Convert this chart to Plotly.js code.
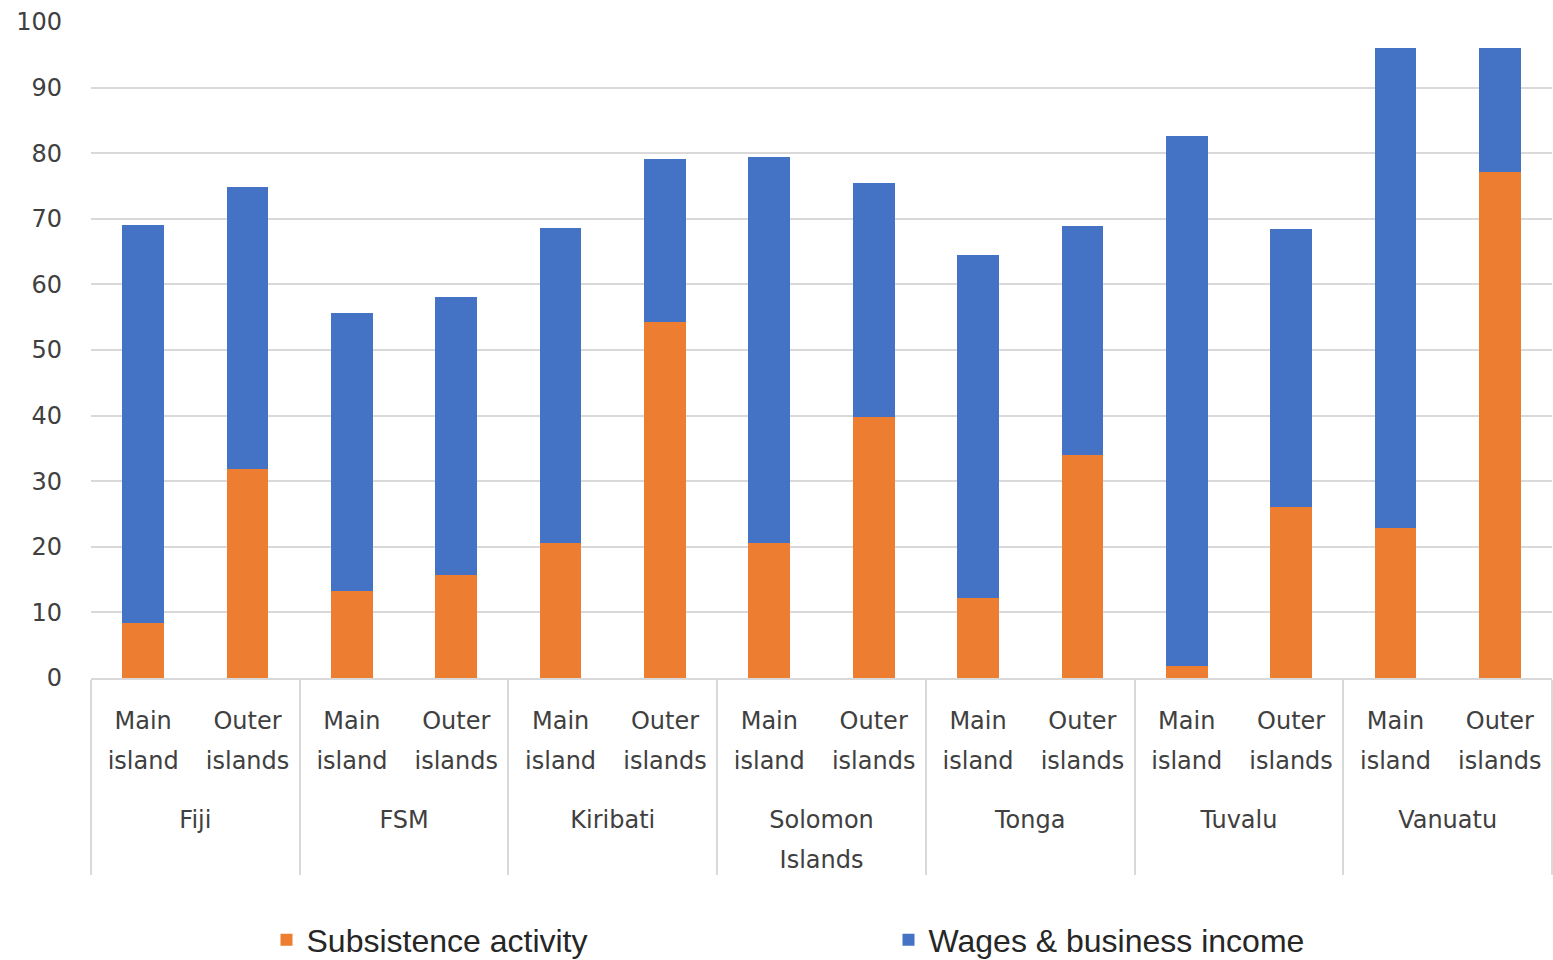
<!DOCTYPE html>
<html>
<head>
<meta charset="utf-8">
<script src="https://cdn.plot.ly/plotly-3.0.1.min.js"></script>
<style>
  html, body { margin: 0; padding: 0; background: #ffffff; }
  #chart { width: 1553px; height: 960px; }
</style>
</head>
<body>
<div id="chart"></div>
<script>
// Country groups and island type for each bar (two-level category axis)
const countries = ['Fiji', 'Fiji', 'FSM', 'FSM', 'Kiribati', 'Kiribati',
  'Solomon<br>Islands', 'Solomon<br>Islands', 'Tonga', 'Tonga',
  'Tuvalu', 'Tuvalu', 'Vanuatu', 'Vanuatu'];
const islandTypes = ['Main<br>island', 'Outer<br>islands', 'Main<br>island', 'Outer<br>islands',
  'Main<br>island', 'Outer<br>islands', 'Main<br>island', 'Outer<br>islands',
  'Main<br>island', 'Outer<br>islands', 'Main<br>island', 'Outer<br>islands',
  'Main<br>island', 'Outer<br>islands'];

// Percentage of households by main income source
const subsistence = [8.4, 31.9, 13.3, 15.7, 20.6, 54.3, 20.6, 39.8, 12.2, 34.0, 1.9, 26.0, 22.8, 77.1];
const wages = [60.7, 42.9, 42.3, 42.4, 48.0, 24.8, 58.8, 35.6, 52.3, 34.9, 80.7, 42.4, 73.3, 19.0];

const yTicks = [0, 10, 20, 30, 40, 50, 60, 70, 80, 90, 100];

const ORANGE = '#ED7D31';
const BLUE = '#4472C4';
const TEXT = '#404040';
const GRID = '#D9D9D9';

// Category labels are drawn at 24px inside a 31px line box, which
// gives the roomier line spacing of the two-line labels.
const LABEL_PX = 24;
const roomy = s => s.split('<br>')
  .map(line => '<span style="font-size:' + LABEL_PX + 'px">' + line + '</span>')
  .join('<br>');
// Country names sit one blank line below the island labels
const groupLabel = s => roomy('&nbsp;<br>' + s);

const xCats = [countries.map(groupLabel), islandTypes.map(roomy)];

const traces = [
  {
    type: 'bar',
    name: 'Subsistence activity',
    x: xCats,
    y: subsistence,
    marker: { color: ORANGE },
    hoverinfo: 'y+name'
  },
  {
    type: 'bar',
    name: 'Wages &amp; business income',
    x: xCats,
    y: wages,
    marker: { color: BLUE },
    hoverinfo: 'y+name'
  }
];

const layout = {
  width: 1553,
  height: 960,
  margin: { l: 90.6, r: 1, t: 21.7, b: 282.3, pad: 0 },
  paper_bgcolor: '#ffffff',
  plot_bgcolor: '#ffffff',
  barmode: 'stack',
  bargap: 0.6,
  font: { family: 'DejaVu Sans, sans-serif', size: 24, color: TEXT },
  xaxis: {
    type: 'multicategory',
    showgrid: false,
    showline: true,
    linecolor: GRID,
    linewidth: 1.5,
    ticks: '',
    ticklabelstandoff: 12,
    showdividers: true,
    dividercolor: GRID,
    dividerwidth: 1.5,
    tickfont: { family: 'DejaVu Sans, sans-serif', size: 31, color: TEXT },
    automargin: false
  },
  yaxis: {
    range: [0, 100],
    tickvals: yTicks,
    ticktext: yTicks.map(String),
    showgrid: true,
    gridcolor: GRID,
    gridwidth: 1.5,
    zeroline: false,
    showline: false,
    ticks: '',
    ticklabelstandoff: 28,
    tickfont: { family: 'DejaVu Sans, sans-serif', size: 24, color: TEXT },
    automargin: false
  },
  showlegend: true,
  legend: {
    orientation: 'h',
    traceorder: 'normal',
    x: 0.1716,
    xanchor: 'left',
    xref: 'container',
    y: 0.021,
    yanchor: 'middle',
    yref: 'container',
    entrywidth: 577,
    entrywidthmode: 'pixels',
    font: { family: 'Liberation Sans, Arial, sans-serif', size: 32, color: '#262626' },
    bgcolor: 'rgba(0,0,0,0)'
  }
};

Plotly.newPlot('chart', traces, layout, { displayModeBar: false, responsive: false });
</script>
</body>
</html>
